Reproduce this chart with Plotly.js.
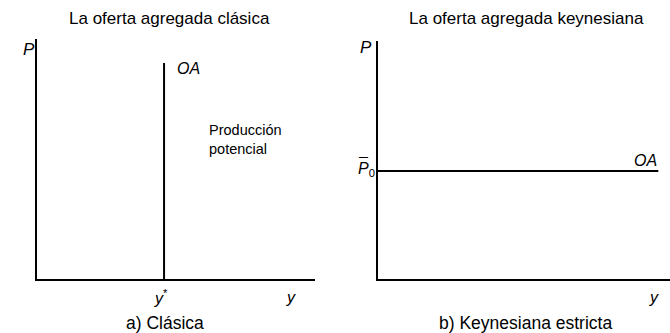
<!DOCTYPE html>
<html>
<head>
<meta charset="utf-8">
<script src="https://cdn.plot.ly/plotly-3.0.1.min.js"></script>
<style>html,body{margin:0;padding:0;background:#fff;}#chart{width:670px;height:333px;}</style>
</head>
<body>
<div id="chart"></div>
<script>
// Data (in axis units, range 0..10)
var panelTitles = ["La oferta agregada clásica", "La oferta agregada keynesiana"];
var panelCaptions = ["a) Clásica", "b) Keynesiana estricta"];
var classicX = [4.57, 4.57];      // y* (potential output)
var classicY = [0, 9.0];
var keynesX = [0, 9.6];
var keynesY = [4.54, 4.54];       // fixed price level P0

var W = 670, H = 333;
function px(x){ return x / W; }
function py(y){ return 1 - y / H; }

var F = "Liberation Sans, Arial, Helvetica, sans-serif";
var lineStyle = {color: "#000", width: 2};

var traces = [
  {x: classicX, y: classicY, xaxis: "x", yaxis: "y", mode: "lines", line: lineStyle, hoverinfo: "skip", cliponaxis: false},
  {x: keynesX, y: keynesY, xaxis: "x2", yaxis: "y2", mode: "lines", line: lineStyle, hoverinfo: "skip", cliponaxis: false}
];

function ax(domain, anchor){
  return {domain: domain, anchor: anchor, range: [0, 10], showline: true, linecolor: "#000", linewidth: 2,
          showgrid: false, zeroline: false, ticks: "", showticklabels: false, fixedrange: true};
}

function ann(text, x, y, size, opts){
  var a = {text: text, x: x, y: y, xref: "paper", yref: "paper", showarrow: false,
           font: {family: F, size: size, color: "#000"}, xanchor: "center", yanchor: "middle"};
  for (var k in (opts||{})) a[k] = opts[k];
  return a;
}

var layout = {
  width: W, height: H,
  margin: {l: 0, r: 0, t: 0, b: 0},
  paper_bgcolor: "#fff", plot_bgcolor: "rgba(0,0,0,0)",
  showlegend: false,
  xaxis: ax([px(37), px(315)], "y"),
  yaxis: ax([py(279), py(39)], "x"),
  xaxis2: ax([px(378), px(670)], "y2"),
  yaxis2: ax([py(279), py(41)], "x2"),
  annotations: [
    ann(panelTitles[0], px(169), py(18), 17),
    ann(panelTitles[1], px(526), py(18), 17),
    ann(panelCaptions[0], px(165), py(323), 17.5),
    ann(panelCaptions[1], px(525), py(323), 17.5),
    ann("<i>P</i>", px(29), py(49), 17),
    ann("<i>OA</i>", px(188), py(68), 16),
    ann("Producción<br>potencial", px(207), py(139), 14.5, {xanchor: "left", align: "left"}),
    ann("<i>y</i><sup>*</sup>", px(161), py(297), 16),
    ann("<i>y</i>", px(291), py(297), 16),
    ann("<i>P</i>", px(366), py(47), 17),
    ann("<i>P</i><sub>0</sub>", px(366), py(169), 16),
    ann("¯", px(363), py(164), 16),
    ann("<i>OA</i>", px(645), py(160), 16),
    ann("<i>y</i>", px(654), py(297), 16)
  ]
};

Plotly.newPlot("chart", traces, layout, {staticPlot: true, displayModeBar: false});
</script>
</body>
</html>
